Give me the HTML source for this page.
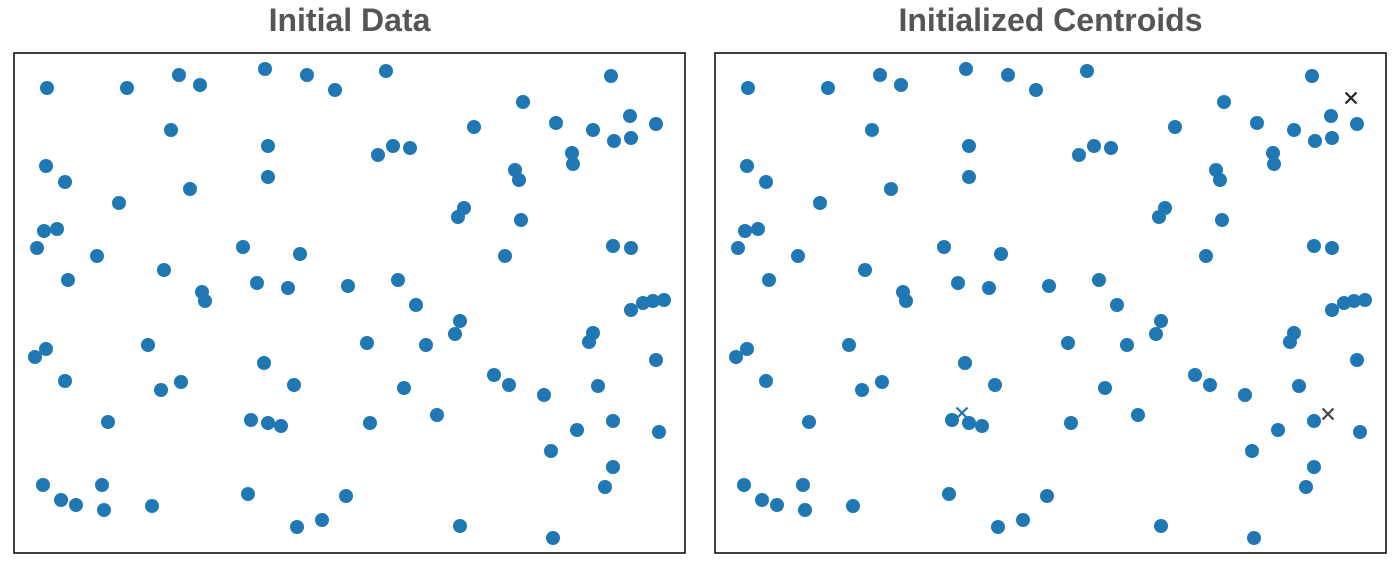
<!DOCTYPE html>
<html><head><meta charset="utf-8"><style>
body{margin:0;background:#fff;}
svg{display:block;}
</style></head><body>
<svg id="chart" width="1400" height="568"></svg>
<script>
const xs=[33,113,165,186,251,293,321,372,597,509,616,542,579,642,600,617,157,254,364,379,396,460,558,559,501,505,32,51,254,176,105,450,444,507,30,43,23,229,286,83,150,491,599,617,54,243,274,334,384,188,191,402,617,629,639,650,446,441,579,575,32,21,134,353,412,250,642,51,147,167,280,390,480,495,530,584,94,237,254,267,356,423,563,599,645,537,599,29,47,62,88,90,138,234,283,308,332,446,591,539];
const ys=[465,465,478,468,484,478,463,482,477,451,437,430,423,429,412,415,423,407,398,407,405,426,400,389,383,373,387,371,376,364,350,345,336,333,322,324,305,306,299,297,283,297,307,305,273,270,265,267,273,261,252,248,243,250,252,253,232,219,220,211,204,196,208,210,208,190,193,172,163,171,168,165,178,168,158,167,131,133,130,127,130,138,123,132,121,102,86,68,53,48,68,43,47,59,26,33,57,27,66,15];
const cx=[636,247,613];
const cy=[455,140,139];
const cColors=['#222','#1f77b4','#444'];
const titles=['Initial Data','Initialized Centroids'];
const NS='http://www.w3.org/2000/svg';
const svg=document.getElementById('chart');
function mk(t,a){const e=document.createElementNS(NS,t);for(const k in a)e.setAttribute(k,a[k]);return e;}
const panels=[14,715];
panels.forEach((px,pi)=>{
  const g=mk('g',{});
  
  
  svg.appendChild(g);
  const sx=v=>px+v*671/671, sy=v=>553-v*500/500;
  const t=mk('text',{x:px+335.5,y:31,'text-anchor':'middle','font-family':'Liberation Sans, sans-serif','font-size':32,'font-weight':'bold',fill:'#555'});
  t.textContent=titles[pi];
  
  
  g.appendChild(t);
  const r=mk('rect',{x:px,y:53,width:671,height:500,fill:'#fff',stroke:'#000','stroke-width':1.5});
  
  
  g.appendChild(r);
  xs.forEach((v,i)=>{
    const c=mk('circle',{cx:sx(v),cy:sy(ys[i]),r:7,fill:'#1f77b4'});
    
    
    g.appendChild(c);
  });
  if(pi===1){
    cx.forEach((v,i)=>{
      const x=sx(v),y=sy(cy[i]),s=5.5;
      const p=mk('path',{d:`M${x-s},${y-s}L${x+s},${y+s}M${x-s},${y+s}L${x+s},${y-s}`,stroke:cColors[i],'stroke-width':2.2,fill:'none'});
      
      
      g.appendChild(p);
    });
  }
});
</script>
</body></html>
